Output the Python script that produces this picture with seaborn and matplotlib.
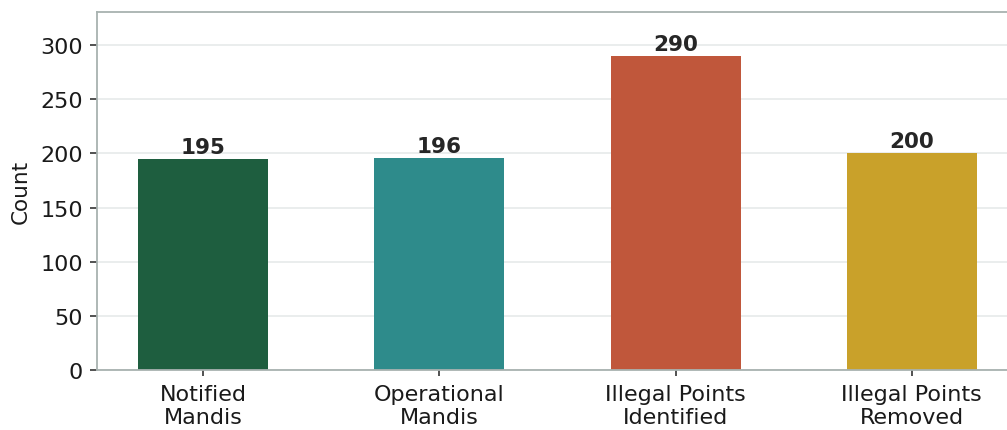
import matplotlib
matplotlib.use("Agg")
import matplotlib.pyplot as plt
import seaborn as sns
import pandas as pd

categories = ["Notified\nMandis", "Operational\nMandis", "Illegal Points\nIdentified", "Illegal Points\nRemoved"]
counts = [195, 196, 290, 200]
colors = ["#1e5e3f", "#2e8b8b", "#c0573b", "#c9a12a"]

sns.set_theme(style="whitegrid")
plt.rcParams["font.family"] = ["DejaVu Sans"]

df = pd.DataFrame({"category": categories, "count": counts})

fig = plt.figure(figsize=(10.07, 4.31), dpi=100)
ax = fig.add_axes([97 / 1007, 1 - 371 / 431, (1018 - 97) / 1007, (371 - 13) / 431])

sns.barplot(data=df, x="category", y="count", hue="category", palette=colors,
            width=0.55, legend=False, ax=ax, saturation=1, linewidth=0)

for i, v in enumerate(counts):
    ax.text(i, v + 2, str(v), ha="center", va="bottom", fontsize=15.5,
            fontweight="bold", color="#262626")

ax.set_xlim(-0.45, 3.45)
ax.set_ylim(0, max(counts) * 1.14)
ax.set_xlabel("")
ax.set_ylabel("Count", fontsize=15.5, color="#1a1a1a", labelpad=7)
ax.grid(axis="y", color="#e6eaea", linewidth=1.2)
ax.grid(axis="x", visible=False)
ax.set_axisbelow(True)

for side in ["left", "bottom", "top", "right"]:
    ax.spines[side].set_color("#a8b2b0")
    ax.spines[side].set_linewidth(1.3)

ax.tick_params(axis="both", labelsize=16, colors="#1a1a1a", width=1.2,
               direction="out", left=True, bottom=True)
ax.tick_params(axis="y", color="#333333", length=5, pad=5)
ax.tick_params(axis="x", color="#333333", length=4, pad=6)

fig.savefig("out.png", dpi=100)
